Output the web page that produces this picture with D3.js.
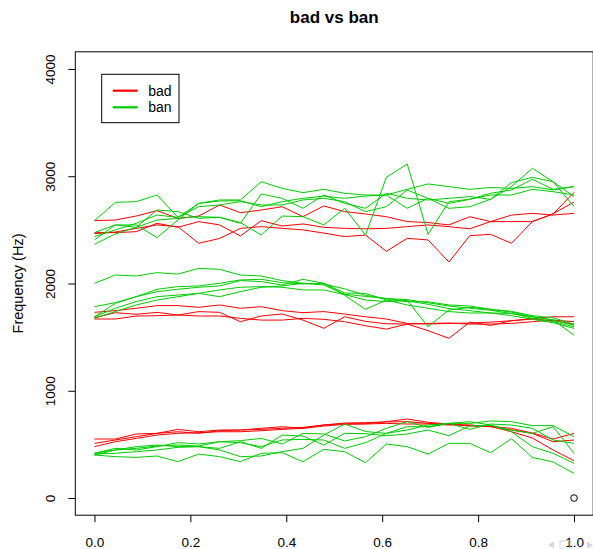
<!DOCTYPE html>
<html>
<head>
<meta charset="utf-8">
<script src="https://d3js.org/d3.v7.min.js"></script>
<style>
  body { margin: 0; background: #fff; }
  svg { display: block; font-family: "Liberation Sans", Arial, sans-serif; }
</style>
</head>
<body>
<svg id="vis-svg"></svg>
<script>
// formant tracks (Hz) over normalised time, one row per token
var badF1 = [
  [550, 550, 597, 603, 640, 618, 634, 634, 650, 665, 650, 681, 699, 703, 709, 712, 696, 687, 678, 668, 650, 606, 550, 603],
  [510, 541, 572, 603, 618, 603, 628, 634, 640, 650, 659, 681, 693, 693, 712, 737, 706, 690, 671, 665, 634, 603, 525, 541],
  [479, 525, 556, 587, 603, 609, 618, 618, 628, 640, 650, 671, 687, 690, 696, 690, 690, 681, 681, 668, 618, 560, 448, 348]
];
var badF2 = [
  [1731, 1747, 1769, 1794, 1794, 1778, 1800, 1769, 1784, 1747, 1728, 1738, 1715, 1690, 1669, 1628, 1622, 1628, 1631, 1640, 1653, 1672, 1690, 1690],
  [1681, 1728, 1713, 1731, 1706, 1738, 1731, 1644, 1697, 1716, 1659, 1582, 1690, 1647, 1625, 1622, 1560, 1489, 1640, 1609, 1653, 1669, 1653, 1622],
  [1669, 1669, 1697, 1700, 1706, 1697, 1697, 1675, 1659, 1659, 1675, 1666, 1644, 1606, 1575, 1622, 1628, 1631, 1622, 1622, 1628, 1644, 1659, 1644]
];
var badF3 = [
  [2586, 2592, 2629, 2679, 2607, 2629, 2732, 2660, 2685, 2716, 2623, 2723, 2670, 2648, 2623, 2577, 2568, 2546, 2623, 2577, 2638, 2654, 2638, 2654],
  [2474, 2474, 2483, 2561, 2524, 2577, 2546, 2443, 2586, 2536, 2555, 2524, 2514, 2510, 2514, 2530, 2546, 2530, 2510, 2577, 2577, 2577, 2650, 2760],
  [2465, 2480, 2514, 2546, 2530, 2375, 2420, 2514, 2530, 2514, 2500, 2470, 2437, 2452, 2300, 2421, 2406, 2200, 2446, 2458, 2375, 2577, 2648, 2850]
];
var banF1 = [
  [417, 463, 448, 479, 516, 504, 525, 535, 556, 504, 603, 597, 532, 572, 650, 712, 659, 696, 696, 718, 712, 675, 675, 572],
  [401, 448, 479, 494, 479, 479, 463, 525, 463, 587, 578, 494, 603, 600, 581, 597, 634, 581, 674, 678, 634, 603, 665, 417],
  [411, 417, 432, 448, 473, 479, 448, 386, 392, 432, 463, 587, 690, 620, 603, 634, 681, 696, 712, 681, 618, 479, 417, 323],
  [401, 386, 379, 392, 339, 410, 386, 339, 417, 423, 339, 454, 432, 330, 504, 479, 410, 510, 510, 423, 553, 379, 336, 230],
  [417, 448, 463, 485, 494, 485, 525, 516, 479, 541, 547, 541, 463, 516, 603, 665, 665, 696, 640, 690, 681, 650, 541, 510]
];
var banF2 = [
  [2002, 2079, 2070, 2101, 2088, 2141, 2132, 2079, 2070, 2027, 2002, 1996, 1950, 1890, 1860, 1830, 1830, 1800, 1790, 1760, 1740, 1700, 1680, 1620],
  [1784, 1821, 1877, 1946, 1971, 1977, 2002, 2033, 2039, 2008, 1996, 2002, 1911, 1908, 1846, 1843, 1597, 1753, 1778, 1759, 1734, 1690, 1659, 1519],
  [1690, 1815, 1877, 1924, 1946, 1965, 1977, 2027, 2018, 1986, 2039, 2002, 1889, 1759, 1846, 1800, 1769, 1738, 1725, 1725, 1722, 1675, 1644, 1597],
  [1690, 1769, 1831, 1877, 1893, 1908, 1940, 1965, 1971, 1965, 1940, 1940, 1896, 1846, 1831, 1840, 1806, 1766, 1747, 1725, 1700, 1666, 1634, 1582],
  [1675, 1738, 1800, 1846, 1877, 1908, 1877, 1924, 1965, 1977, 2002, 1986, 1900, 1880, 1860, 1850, 1820, 1790, 1770, 1750, 1720, 1690, 1660, 1610]
];
var banF3 = [
  [2586, 2756, 2763, 2825, 2617, 2747, 2779, 2779, 2949, 2887, 2847, 2878, 2841, 2825, 2825, 2878, 2928, 2903, 2878, 2895, 2887, 2903, 2872, 2903],
  [2406, 2546, 2546, 2428, 2592, 2747, 2769, 2772, 2716, 2763, 2794, 2815, 2794, 2815, 2825, 2701, 2794, 2747, 2785, 2825, 2825, 2878, 2856, 2825],
  [2474, 2546, 2524, 2685, 2670, 2607, 2617, 2561, 2835, 2794, 2701, 2825, 2747, 2701, 2841, 2794, 2779, 2794, 2810, 2785, 2903, 3074, 2949, 2810],
  [2365, 2462, 2524, 2592, 2607, 2623, 2617, 2568, 2452, 2629, 2623, 2546, 2701, 2452, 2990, 3114, 2458, 2763, 2785, 2841, 2872, 2971, 2878, 2903],
  [2437, 2499, 2561, 2638, 2617, 2716, 2732, 2763, 2732, 2732, 2779, 2794, 2763, 2670, 2716, 2872, 2794, 2701, 2716, 2785, 2940, 2990, 2949, 2716]
];

var words = ["bad", "ban"];
var wordColors = ["#FF0000", "#00CD00"];
var xTicks = [0, 0.2, 0.4, 0.6, 0.8, 1.0];
var yTicks = [0, 1000, 2000, 3000, 4000];
var extraPoint = [1.0, 0];

var width = 593;
var height = 549;

var svg = d3.select('#vis-svg')
  .attr('width', width)
  .attr('height', height);

// plot region (R style 4% padding around the data range)
var plot = {left: 75.3, right: 593.2, top: 51.8, bottom: 515.2};

var xScale = d3.scaleLinear()
  .domain([-0.04, 1.04])
  .range([plot.left, plot.right]);

var yScale = d3.scaleLinear()
  .domain([-160, 4160])
  .range([plot.bottom, plot.top]);

// tracks
function drawTracks(tracks, color) {
  var line = d3.line()
    .x(function(d, i) { return xScale(i / (tracks[0].length - 1)); })
    .y(function(d) { return yScale(d); });
  svg.append('g')
    .selectAll('path')
    .data(tracks)
    .enter()
    .append('path')
    .attr('d', line)
    .attr('fill', 'none')
    .attr('stroke', color)
    .attr('stroke-width', 1);
}

drawTracks(badF1, wordColors[0]);
drawTracks(badF2, wordColors[0]);
drawTracks(badF3, wordColors[0]);
drawTracks(banF1, wordColors[1]);
drawTracks(banF2, wordColors[1]);
drawTracks(banF3, wordColors[1]);

// the lone point
svg.append('circle')
  .attr('cx', xScale(extraPoint[0]))
  .attr('cy', yScale(extraPoint[1]))
  .attr('r', 3.3)
  .attr('fill', 'none')
  .attr('stroke', '#000')
  .attr('stroke-width', 1);

// box
svg.append('rect')
  .attr('x', plot.left)
  .attr('y', plot.top)
  .attr('width', plot.right - plot.left)
  .attr('height', plot.bottom - plot.top)
  .attr('fill', 'none')
  .attr('stroke', '#000')
  .attr('stroke-width', 1);

// axes
var xAxis = svg.append('g')
  .attr('class', 'x axis')
  .attr('transform', `translate(0,${plot.bottom})`)
  .call(d3.axisBottom(xScale).tickValues(xTicks).tickSize(7).tickFormat(d3.format('.1f')));
xAxis.select('.domain').remove();
xAxis.selectAll('line').attr('stroke', '#000');
xAxis.selectAll('text')
  .attr('y', 32)
  .attr('dy', 0)
  .attr('fill', '#000')
  .style('font-size', '13.5px')
  .style('font-family', '"Liberation Sans", Arial, sans-serif');

var yAxis = svg.append('g')
  .attr('class', 'y axis')
  .attr('transform', `translate(${plot.left},0)`)
  .call(d3.axisLeft(yScale).tickValues(yTicks).tickSize(7).tickFormat(d3.format('d')));
yAxis.select('.domain').remove();
yAxis.selectAll('line').attr('stroke', '#000');
yAxis.selectAll('text')
  .attr('transform', 'rotate(-90)')
  .attr('text-anchor', 'middle')
  .attr('x', 0)
  .attr('y', -20)
  .attr('dy', 0)
  .attr('fill', '#000')
  .style('font-size', '13.5px')
  .style('font-family', '"Liberation Sans", Arial, sans-serif');

// title and axis label
svg.append('text')
  .attr('x', (plot.left + plot.right) / 2)
  .attr('y', 22.7)
  .attr('text-anchor', 'middle')
  .style('font-size', '17px')
  .style('font-weight', 'bold')
  .text('bad vs ban');

svg.append('text')
  .attr('transform', `translate(23.3,${(plot.top + plot.bottom) / 2}) rotate(-90)`)
  .attr('text-anchor', 'middle')
  .style('font-size', '14.5px')
  .text('Frequency (Hz)');

// legend
var legend = svg.append('g');
legend.append('rect')
  .attr('x', 101.7)
  .attr('y', 74.3)
  .attr('width', 77.3)
  .attr('height', 48.4)
  .attr('fill', '#fff')
  .attr('stroke', '#000')
  .attr('stroke-width', 1);

var rows = legend.selectAll('g.row')
  .data(words)
  .enter()
  .append('g')
  .attr('class', 'row')
  .attr('transform', function(d, i) { return `translate(0,${90.7 + i * 16.6})`; });
rows.append('line')
  .attr('x1', 112.7)
  .attr('x2', 137.7)
  .attr('stroke', function(d, i) { return wordColors[i]; })
  .attr('stroke-width', 2.2);
rows.append('text')
  .attr('x', 148.3)
  .attr('y', 5)
  .style('font-size', '14px')
  .text(function(d) { return d; });

// faint slide navigation symbols in the corner
var nav = svg.append('g').attr('fill', '#c9c9e6').attr('opacity', 0.8);
nav.append('path').attr('d', 'M548,545 L554,541.5 L554,548.5 Z');
nav.append('rect').attr('x', 560).attr('y', 541).attr('width', 10).attr('height', 8).attr('fill', 'none').attr('stroke', '#c9c9e6');
nav.append('path').attr('d', 'M593,545 L587,541.5 L587,548.5 Z');
</script>
</body>
</html>
